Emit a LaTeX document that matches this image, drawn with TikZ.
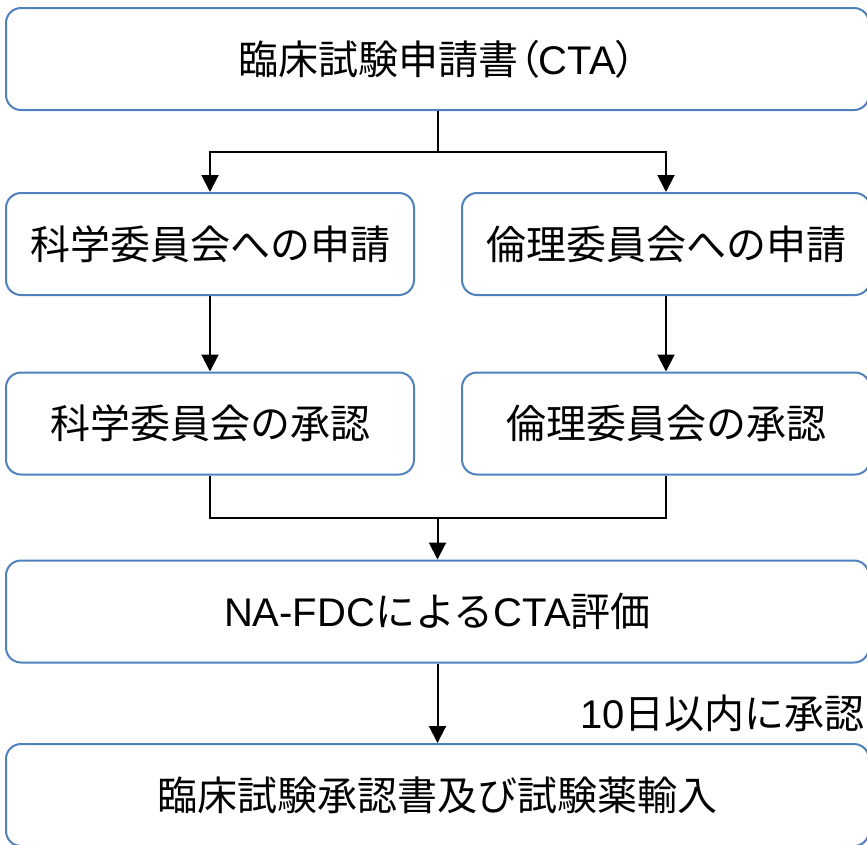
\documentclass[tikz,border=0pt]{standalone}
\usepackage{fontspec}
\setmainfont{Liberation Sans}
\newfontfamily\jp{Noto Sans CJK JP}
\newfontfamily\jpp[RawFeature=+palt]{Noto Sans CJK JP}
\usetikzlibrary{arrows.meta}
\definecolor{boxblue}{RGB}{79,129,189}
\tikzset{
  flowbox/.style={draw=boxblue, line width=2pt, rounded corners=15pt, fill=white,
    inner sep=0pt, font=\fontsize{40}{44}\selectfont},
  widebox/.style={flowbox, minimum width=863pt, minimum height=102pt},
  halfbox/.style={flowbox, minimum width=408pt, minimum height=102pt},
  conn/.style={line width=2pt, black},
  arr/.style={conn, -{Triangle[width=17pt,length=17pt]}},
  lbl/.style={font=\fontsize{40}{44}\selectfont, inner sep=0pt}
}
\begin{document}
\begin{tikzpicture}[x=1pt,y=-1pt]
\clip (0,0) rectangle (867,844);
\useasboundingbox (0,0) rectangle (867,844);
\node[widebox] (a) at (437.5,59) {{\jp 臨床試験申請書}{\jpp （}CTA{\jpp ）}};
\node[halfbox] (b) at (210,244) {\jp 科学委員会への申請};
\node[halfbox] (c) at (666,244) {\jp 倫理委員会への申請};
\node[halfbox] (d) at (210,423.5) {\jp 科学委員会の承認};
\node[halfbox] (e) at (666,423.5) {\jp 倫理委員会の承認};
\node[widebox] (f) at (437.5,611.5) {NA-FDC{\jp による}CTA{\jp 評価}};
\node[widebox] (g) at (437.5,795) {\jp 臨床試験承認書及び試験薬輸入};
\node[lbl, anchor=east] (t) at (865,713) {10{\jp 日以内に承認}};
\coordinate (split) at (437.5,152);
\coordinate (merge) at (437.5,518);
\draw[conn] (a.south) -- (split);
\draw[arr] (split) -| (b.north);
\draw[arr] (split) -| (c.north);
\draw[arr] (b.south) -- (d.north);
\draw[arr] (c.south) -- (e.north);
\draw[conn] (d.south) |- (merge);
\draw[conn] (e.south) |- (merge);
\draw[arr] (merge) -- (f.north);
\draw[arr] (f.south) -- (g.north);
\end{tikzpicture}
\end{document}
